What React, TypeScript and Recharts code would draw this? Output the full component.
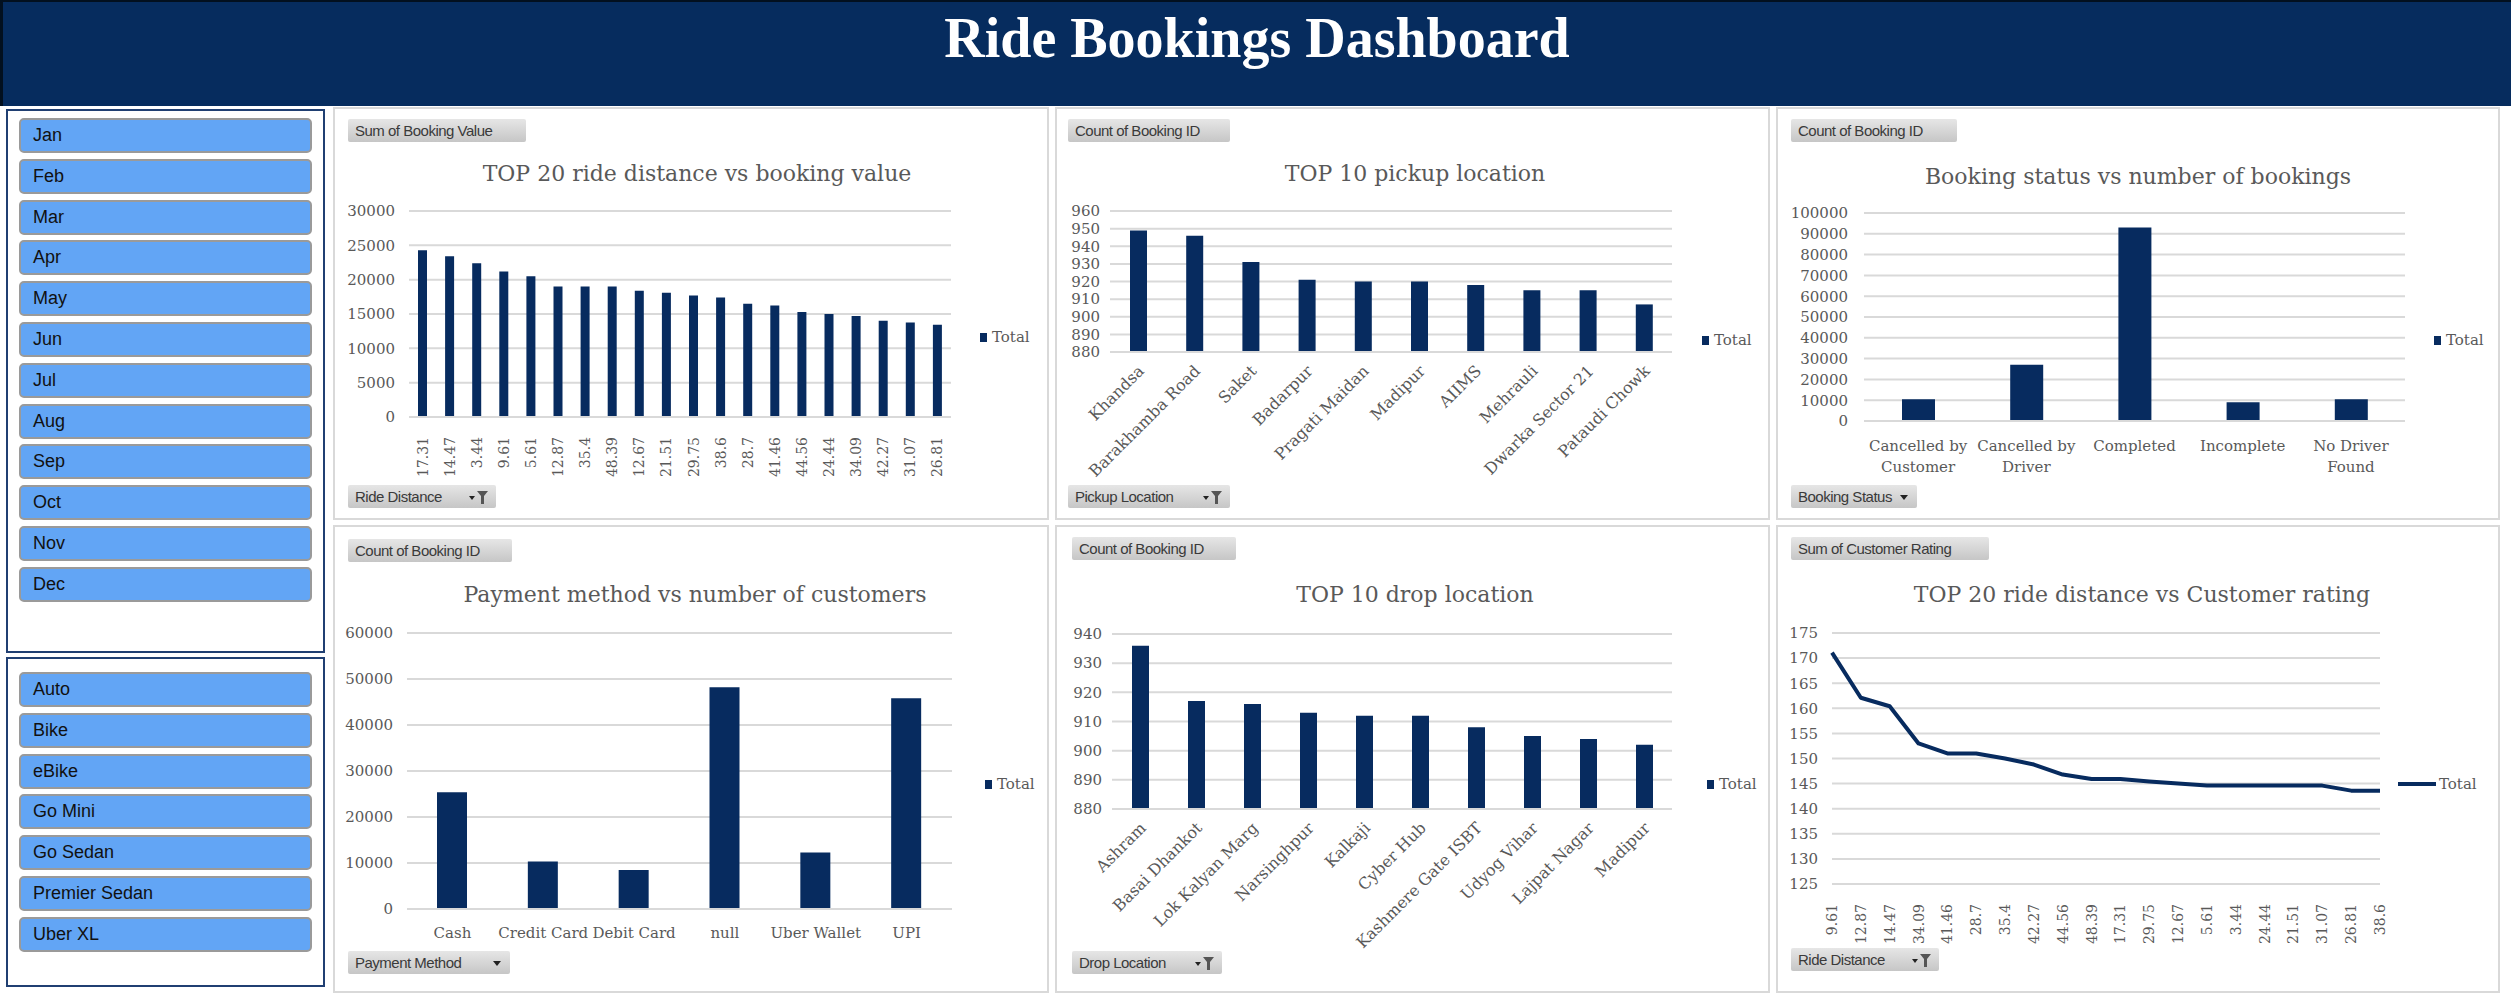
import { BarChart, Bar, XAxis, YAxis, CartesianGrid, ComposedChart, Line } from "recharts"

// slicer entries
const months = ["Jan", "Feb", "Mar", "Apr", "May", "Jun", "Jul", "Aug", "Sep", "Oct", "Nov", "Dec"]
const vehicleTypes = ["Auto", "Bike", "eBike", "Go Mini", "Go Sedan", "Premier Sedan", "Uber XL"]

// TOP 20 ride distance vs booking value
const valueDistances = ["17.31", "14.47", "3.44", "9.61", "5.61", "12.87", "35.4", "48.39", "12.67", "21.51",
  "29.75", "38.6", "28.7", "41.46", "44.56", "24.44", "34.09", "42.27", "31.07", "26.81"]
const bookingValues = [24300, 23400, 22400, 21200, 20500, 19000, 19000, 19000, 18400, 18100,
  17700, 17400, 16500, 16250, 15300, 15000, 14700, 14000, 13750, 13450]
const bookingValueTicks = [0, 5000, 10000, 15000, 20000, 25000, 30000]

// TOP 10 pickup location
const pickupLocations = ["Khandsa", "Barakhamba Road", "Saket", "Badarpur", "Pragati Maidan", "Madipur",
  "AIIMS", "Mehrauli", "Dwarka Sector 21", "Pataudi Chowk"]
const pickupCounts = [949, 946, 931, 921, 920, 920, 918, 915, 915, 907]
const pickupTicks = [880, 890, 900, 910, 920, 930, 940, 950, 960]

// Booking status vs number of bookings
const bookingStatuses = ["Cancelled by Customer", "Cancelled by Driver", "Completed", "Incomplete", "No Driver Found"]
const statusCounts = [10500, 27000, 93000, 9000, 10500]
const statusTicks = [0, 10000, 20000, 30000, 40000, 50000, 60000, 70000, 80000, 90000, 100000]

// Payment method vs number of customers
const paymentMethods = ["Cash", "Credit Card", "Debit Card", "null", "Uber Wallet", "UPI"]
const paymentCounts = [25400, 10300, 8500, 48200, 12300, 45800]
const paymentTicks = [0, 10000, 20000, 30000, 40000, 50000, 60000]

// TOP 10 drop location
const dropLocations = ["Ashram", "Basai Dhankot", "Lok Kalyan Marg", "Narsinghpur", "Kalkaji", "Cyber Hub",
  "Kashmere Gate ISBT", "Udyog Vihar", "Lajpat Nagar", "Madipur"]
const dropCounts = [936, 917, 916, 913, 912, 912, 908, 905, 904, 902]
const dropTicks = [880, 890, 900, 910, 920, 930, 940]

// TOP 20 ride distance vs Customer rating
const ratingDistances = ["9.61", "12.87", "14.47", "34.09", "41.46", "28.7", "35.4", "42.27", "44.56", "48.39",
  "17.31", "29.75", "12.67", "5.61", "3.44", "24.44", "21.51", "31.07", "26.81", "38.6"]
const ratingSums = [171.1, 162.1, 160.4, 153, 151, 151, 150, 148.8, 146.8, 145.9,
  145.9, 145.4, 145, 144.6, 144.6, 144.6, 144.6, 144.6, 143.6, 143.6]
const ratingTicks = [125, 130, 135, 140, 145, 150, 155, 160, 165, 170, 175]

const toRows = (names: string[], values: number[]) => names.map((name, i) => ({ name, Total: values[i] }))

const NAVY = "#062c5e"
const SERIES = "#072b5f"
const GRID = "#d9d9d9"
const LABEL = "#595959"
const SERIF = "'DejaVu Serif', 'Liberation Serif', serif"
const SANS = "'Liberation Sans', Arial, sans-serif"

type TickProps = { x: number; y: number; payload: { value: string | number } }

const VerticalTick = ({ x, y, payload }: TickProps) => (
  <text transform={`translate(${x + 5},${y + 12}) rotate(-90)`} textAnchor="end" fill={LABEL} fontSize={14} fontFamily={SERIF}>
    {payload.value}
  </text>
)

const SlantTick = ({ x, y, payload }: TickProps) => (
  <text transform={`translate(${x + 7},${y + 12}) rotate(-45)`} textAnchor="end" fill={LABEL} fontSize={16} fontFamily={SERIF}>
    {payload.value}
  </text>
)

const wrapLabel = (text: string, max: number) => {
  const lines: string[] = []
  let cur = ""
  for (const w of text.split(" ")) {
    if (cur && (cur + " " + w).length > max) {
      lines.push(cur)
      cur = w
    } else cur = cur ? cur + " " + w : w
  }
  lines.push(cur)
  return lines
}

const WrapTick = ({ x, y, payload }: TickProps) => (
  <text x={x} y={y + 22} textAnchor="middle" fill={LABEL} fontSize={15} fontFamily={SERIF}>
    {wrapLabel(String(payload.value), 12).map((l, i) => (
      <tspan key={i} x={x} dy={i === 0 ? 0 : 21}>{l}</tspan>
    ))}
  </text>
)

const FlatTick = ({ x, y, payload }: TickProps) => (
  <text x={x} y={y + 21} textAnchor="middle" fill={LABEL} fontSize={15} fontFamily={SERIF}>
    {payload.value}
  </text>
)

const yTick = { fill: LABEL, fontSize: 15, fontFamily: SERIF }

function FieldButton({ label, left, top, width, icon }: { label: string; left: number; top: number; width: number; icon?: "filter" | "arrow" }) {
  return (
    <div style={{
      position: "absolute", left, top, width, height: 23, boxSizing: "border-box",
      background: "linear-gradient(#e6e6e6, #c6c6c6)", borderRadius: 2,
      font: `15px ${SANS}`, color: "#3a3a3a", paddingLeft: 7, lineHeight: "23px", letterSpacing: -0.5,
    }}>
      {label}
      {icon === "filter" && (
        <svg style={{ position: "absolute", right: 5, top: 4 }} width={24} height={16}>
          <path d="M2 7 L8 7 L5 11 Z" fill="#222" />
          <path d="M10 2 L21 2 L17 7 L17 15 L14 15 L14 7 Z" fill="#555" />
        </svg>
      )}
      {icon === "arrow" && (
        <svg style={{ position: "absolute", right: 8, top: 4 }} width={10} height={16}>
          <path d="M1 6 L9 6 L5 11 Z" fill="#222" />
        </svg>
      )}
    </div>
  )
}

function Panel({ left, top, width, height, children }: { left: number; top: number; width: number; height: number; children: React.ReactNode }) {
  return (
    <div style={{ position: "absolute", left, top, width, height, boxSizing: "border-box", border: `2px solid ${GRID}`, background: "#fff" }}>
      {children}
    </div>
  )
}

function Title({ text, top, center }: { text: string; top: number; center: number }) {
  return (
    <div style={{
      position: "absolute", left: center - 300, width: 600, top, textAlign: "center",
      font: `22px ${SERIF}`, color: LABEL, whiteSpace: "nowrap",
    }}>{text}</div>
  )
}

function LegendKey({ left, top, line }: { left: number; top: number; line?: boolean }) {
  return (
    <div style={{ position: "absolute", left, top, display: "flex", alignItems: "center", font: `15px ${SERIF}`, color: LABEL }}>
      {line
        ? <span style={{ width: 38, height: 4, background: SERIES, marginRight: 3 }} />
        : <span style={{ width: 7, height: 9, background: SERIES, marginRight: 5 }} />}
      Total
    </div>
  )
}

function Slicer({ items, top, height, first }: { items: string[]; top: number; height: number; first: number }) {
  return (
    <div style={{ position: "absolute", left: 6, top, width: 319, height, boxSizing: "border-box", border: `2px solid #203f72`, background: "#fff" }}>
      {items.map((m, i) => (
        <div key={m} style={{
          position: "absolute", left: 11, top: first + i * 40.8, width: 293, height: 35, boxSizing: "border-box",
          background: "#62a5f5", border: "2px solid #9a9a9a", borderRadius: 5,
          font: `18px ${SANS}`, color: "#111", paddingLeft: 12, lineHeight: "31px",
        }}>{m}</div>
      ))}
    </div>
  )
}

export default function App() {
  return (
    <div style={{ position: "absolute", left: 0, top: 0, width: 2511, height: 1000, background: "#fff", overflow: "hidden" }}>
      {/* header band */}
      <div style={{
        position: "absolute", left: 0, top: 0, width: 2511, height: 106, background: NAVY,
        borderTop: "2px solid #02101f", borderLeft: "3px solid #02101f", boxSizing: "border-box",
      }}>
        <div style={{
          position: "absolute", left: 0, right: 0, top: 4, textAlign: "center",
          font: `bold 56px 'Liberation Serif', serif`, color: "#fff",
        }}>Ride Bookings Dashboard</div>
      </div>

      <Slicer items={months} top={109} height={544} first={7} />
      <Slicer items={vehicleTypes} top={657} height={330} first={13} />

      {/* row 1 */}
      <Panel left={333} top={107} width={716} height={413}>
        <FieldButton label="Sum of Booking Value" left={13} top={10} width={178} />
        <Title text="TOP 20 ride distance vs booking value" top={52} center={362} />
        <BarChart width={712} height={409} data={toRows(valueDistances, bookingValues)}
          margin={{ top: 102, right: 96, bottom: 24, left: 10 }}>
          <CartesianGrid vertical={false} stroke={GRID} strokeWidth={2} />
          <XAxis dataKey="name" interval={0} height={77} tickLine={false} axisLine={{ stroke: GRID, strokeWidth: 2 }} tick={VerticalTick} />
          <YAxis width={64} domain={[0, 30000]} ticks={bookingValueTicks} interval={0} tickLine={false} axisLine={false} tickMargin={8} tick={yTick} />
          <Bar dataKey="Total" fill={SERIES} barSize={9} isAnimationActive={false} />
        </BarChart>
        <LegendKey left={645} top={219} />
        <FieldButton label="Ride Distance" left={13} top={376} width={148} icon="filter" />
      </Panel>

      <Panel left={1055} top={107} width={715} height={413}>
        <FieldButton label="Count of Booking ID" left={11} top={10} width={162} />
        <Title text="TOP 10 pickup location" top={52} center={358} />
        <BarChart width={711} height={409} data={toRows(pickupLocations, pickupCounts)}
          margin={{ top: 102, right: 96, bottom: 20, left: 10 }}>
          <CartesianGrid vertical={false} stroke={GRID} strokeWidth={2} />
          <XAxis dataKey="name" interval={0} height={146} tickLine={false} axisLine={{ stroke: GRID, strokeWidth: 2 }} tick={SlantTick} />
          <YAxis width={43} domain={[880, 960]} ticks={pickupTicks} interval={0} tickLine={false} axisLine={false} tickMargin={4} tick={yTick} />
          <Bar dataKey="Total" fill={SERIES} barSize={17} isAnimationActive={false} />
        </BarChart>
        <LegendKey left={645} top={222} />
        <FieldButton label="Pickup Location" left={11} top={376} width={162} icon="filter" />
      </Panel>

      <Panel left={1776} top={107} width={724} height={413}>
        <FieldButton label="Count of Booking ID" left={13} top={10} width={166} />
        <Title text="Booking status vs number of bookings" top={55} center={360} />
        <BarChart width={720} height={409} data={toRows(bookingStatuses, statusCounts)}
          margin={{ top: 104, right: 93, bottom: 20, left: 10 }}>
          <CartesianGrid vertical={false} stroke={GRID} strokeWidth={2} />
          <XAxis dataKey="name" interval={0} height={77} tickLine={false} axisLine={{ stroke: GRID, strokeWidth: 2 }} tick={WrapTick} />
          <YAxis width={76} domain={[0, 100000]} ticks={statusTicks} interval={0} tickLine={false} axisLine={false} tickMargin={10} tick={yTick} />
          <Bar dataKey="Total" fill={SERIES} barSize={33} isAnimationActive={false} />
        </BarChart>
        <LegendKey left={656} top={222} />
        <FieldButton label="Booking Status" left={13} top={376} width={126} icon="arrow" />
      </Panel>

      {/* row 2 */}
      <Panel left={333} top={525} width={716} height={468}>
        <FieldButton label="Count of Booking ID" left={13} top={12} width={164} />
        <Title text="Payment method vs number of customers" top={55} center={360} />
        <BarChart width={712} height={464} data={toRows(paymentMethods, paymentCounts)}
          margin={{ top: 106, right: 95, bottom: 22, left: 10 }}>
          <CartesianGrid vertical={false} stroke={GRID} strokeWidth={2} />
          <XAxis dataKey="name" interval={0} height={60} tickLine={false} axisLine={{ stroke: GRID, strokeWidth: 2 }} tick={FlatTick} />
          <YAxis width={62} domain={[0, 60000]} ticks={paymentTicks} interval={0} tickLine={false} axisLine={false} tickMargin={8} tick={yTick} />
          <Bar dataKey="Total" fill={SERIES} barSize={30} isAnimationActive={false} />
        </BarChart>
        <LegendKey left={650} top={248} />
        <FieldButton label="Payment Method" left={13} top={424} width={162} icon="arrow" />
      </Panel>

      <Panel left={1055} top={525} width={715} height={468}>
        <FieldButton label="Count of Booking ID" left={15} top={10} width={164} />
        <Title text="TOP 10 drop location" top={55} center={358} />
        <BarChart width={711} height={464} data={toRows(dropLocations, dropCounts)}
          margin={{ top: 107, right: 96, bottom: 20, left: 10 }}>
          <CartesianGrid vertical={false} stroke={GRID} strokeWidth={2} />
          <XAxis dataKey="name" interval={0} height={162} tickLine={false} axisLine={{ stroke: GRID, strokeWidth: 2 }} tick={SlantTick} />
          <YAxis width={45} domain={[880, 940]} ticks={dropTicks} interval={0} tickLine={false} axisLine={false} tickMargin={4} tick={yTick} />
          <Bar dataKey="Total" fill={SERIES} barSize={17} isAnimationActive={false} />
        </BarChart>
        <LegendKey left={650} top={248} />
        <FieldButton label="Drop Location" left={15} top={424} width={150} icon="filter" />
      </Panel>

      <Panel left={1776} top={525} width={724} height={468}>
        <FieldButton label="Sum of Customer Rating" left={13} top={10} width={198} />
        <Title text="TOP 20 ride distance vs Customer rating" top={55} center={364} />
        <ComposedChart width={720} height={464} data={toRows(ratingDistances, ratingSums)}
          margin={{ top: 106, right: 118, bottom: 30, left: 10 }}>
          <CartesianGrid vertical={false} stroke={GRID} strokeWidth={2} />
          <XAxis dataKey="name" interval={0} height={77} tickLine={false} axisLine={{ stroke: GRID, strokeWidth: 2 }} tick={VerticalTick} />
          <YAxis width={44} domain={[125, 175]} ticks={ratingTicks} interval={0} tickLine={false} axisLine={false} tickMargin={8} tick={yTick} />
          <Line type="linear" dataKey="Total" stroke={SERIES} strokeWidth={4} strokeLinejoin="round" dot={false} isAnimationActive={false} />
        </ComposedChart>
        <LegendKey left={620} top={248} line />
        <FieldButton label="Ride Distance" left={13} top={421} width={148} icon="filter" />
      </Panel>
    </div>
  )
}
